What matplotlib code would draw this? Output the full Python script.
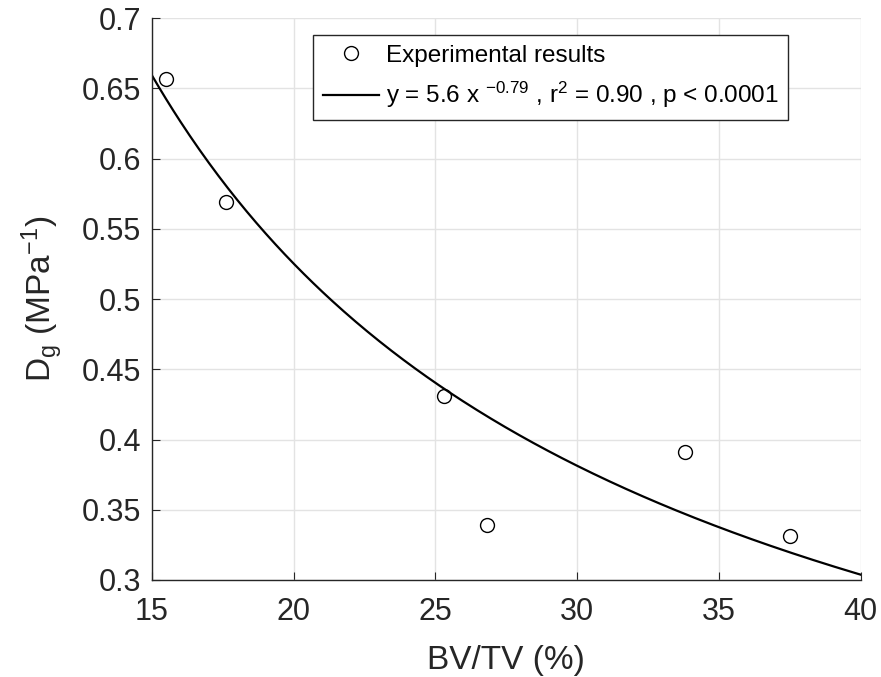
import numpy as np
import matplotlib
matplotlib.use('Agg')
import matplotlib.pyplot as plt

plt.rcParams['font.family'] = ['Liberation Sans', 'DejaVu Sans']
plt.rcParams['mathtext.fontset'] = 'custom'
plt.rcParams['mathtext.rm'] = 'Liberation Sans'
plt.rcParams['mathtext.it'] = 'Liberation Sans'
plt.rcParams['mathtext.default'] = 'regular'

# Measured bone volume fraction vs. damage parameter
bvtv = [15.5, 17.6, 25.3, 26.8, 33.8, 37.5]
dg = [0.657, 0.569, 0.431, 0.339, 0.391, 0.331]

# Power-law fit y = a * x^b
fit_a = 5.6
fit_b = -0.79

xticks = [15, 20, 25, 30, 35, 40]
yticks = [0.3, 0.35, 0.4, 0.45, 0.5, 0.55, 0.6, 0.65, 0.7]
ytick_labels = ['0.3', '0.35', '0.4', '0.45', '0.5', '0.55', '0.6', '0.65', '0.7']

dark = '#262626'

fig = plt.figure(figsize=(8.81, 6.77), dpi=100)
ax = fig.add_axes([0.1725, 0.1433, 0.8045, 0.8297])

xf = np.linspace(15, 40, 300)
ax.plot(bvtv, dg, 'o', mfc='none', mec='black', ms=10, mew=1.0,
        label='Experimental results', zorder=3)
ax.plot(xf, fit_a * xf ** fit_b, color='black', lw=1.6,
        label=r'y = 5.6 x $^{-0.79}$ , r$^2$ = 0.90 , p < 0.0001', zorder=2)

ax.set_xlim(15, 40)
ax.set_ylim(0.3, 0.7)
ax.set_xticks(xticks)
ax.set_yticks(yticks)
ax.set_yticklabels(ytick_labels)
ax.grid(True, color='#e3e3e3', lw=1.0)
ax.set_axisbelow(True)
for s in ['top', 'right']:
    ax.spines[s].set_visible(False)
for s in ['left', 'bottom']:
    ax.spines[s].set_color(dark)
    ax.spines[s].set_linewidth(1.0)
ax.tick_params(direction='in', length=6, width=0.8, colors=dark, labelsize=22)
ax.tick_params(axis='x', pad=12)
ax.tick_params(axis='y', pad=8)

ax.set_xlabel('BV/TV (%)', fontsize=24, color=dark, labelpad=13)
ax.set_ylabel(r'D$_g$ (MPa$^{-1}$)', fontsize=24, color=dark, labelpad=12)

leg = ax.legend(loc='upper right', bbox_to_anchor=(0.898, 0.970), fontsize=17.5,
                frameon=True, fancybox=False, edgecolor=dark, framealpha=1,
                handlelength=2.3, handletextpad=0.3, borderpad=0.4,
                labelspacing=0.55, borderaxespad=0)
leg.get_frame().set_linewidth(1.0)

fig.savefig('out.png', dpi=100)
